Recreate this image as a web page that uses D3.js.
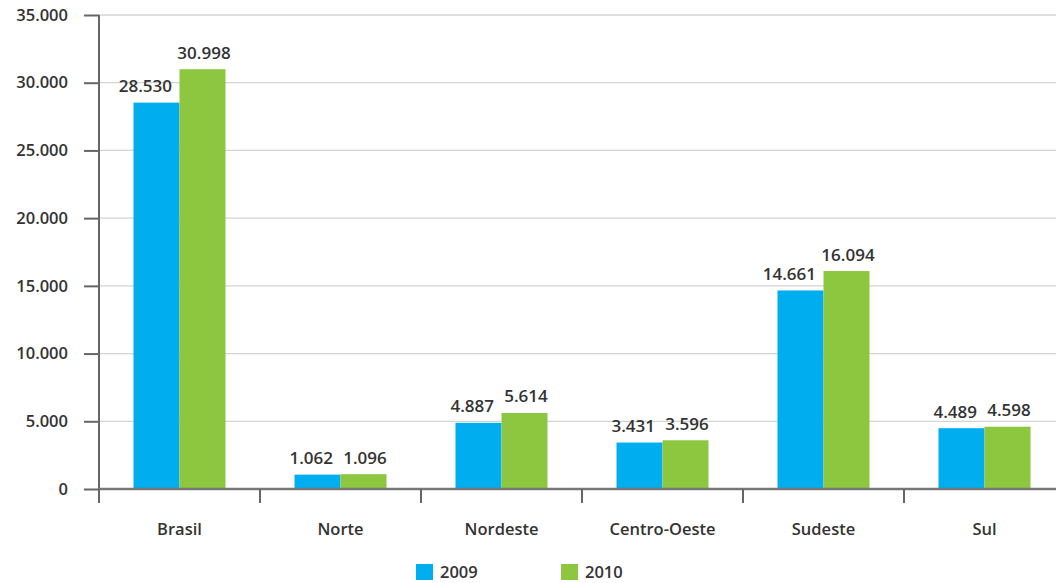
<!DOCTYPE html>
<html><head><meta charset="utf-8">
<script src="https://cdn.jsdelivr.net/npm/d3@7"></script>
<style>
html,body{margin:0;padding:0;background:#fff;}
text{font-family:"Open Sans",sans-serif;font-weight:600;fill:#333;}
</style></head>
<body><svg id="c" width="1056" height="583"></svg>
<script>
const categories = ["Brasil","Norte","Nordeste","Centro-Oeste","Sudeste","Sul"];
const seriesNames = ["2009","2010"];
const values2009 = [28530,1062,4887,3431,14661,4489];
const values2010 = [30998,1096,5614,3596,16094,4598];
const yTicks = [0,5000,10000,15000,20000,25000,30000,35000];
const colors = ["#00adef","#8dc63f"];

const svg = d3.select("#c");
const x0 = 99, x1 = 1065, yTop = 15, yBot = 489;
const fmt = v => d3.format(",")(v).replace(/,/g,".");

const x = d3.scaleBand().domain(categories).range([x0,x1]).paddingInner(0).paddingOuter(0);
const y = d3.scaleLinear().domain([0,35000]).range([yBot,yTop]);
const inner = d3.scaleBand().domain(seriesNames).range([34.5, x.bandwidth()-34.5]);

// gridlines
svg.append("g").selectAll("line").data(yTicks.slice(1)).join("line")
  .attr("x1",x0).attr("x2",1056).attr("y1",d=>y(d)).attr("y2",d=>y(d))
  .attr("stroke","#d4d4d4").attr("stroke-width",1.3);

// bars
const data = categories.map((c,i)=>({c, vals:[values2009[i],values2010[i]]}));
const g = svg.append("g");
data.forEach(d=>{
  d.vals.forEach((v,j)=>{
    const bx = x(d.c)+inner(seriesNames[j]);
    const bw = inner.bandwidth();
    g.append("rect").attr("x",bx).attr("y",y(v)).attr("width",bw).attr("height",yBot-y(v)).attr("fill",colors[j]);
    const t = g.append("text").attr("y",y(v)-10.5).attr("font-size",17).text(fmt(v));
    if (j===0) t.attr("x",bx+bw-7.5).attr("text-anchor","end");
    else t.attr("x",bx+bw/2+1.5).attr("text-anchor","middle");
  });
});

// y axis
const ya = svg.append("g").attr("transform",`translate(${x0},0)`)
  .call(d3.axisLeft(y).tickValues(yTicks).tickSize(15).tickPadding(16).tickFormat(fmt));
ya.select(".domain").attr("stroke","#666").attr("stroke-width",2).attr("d",`M0,${yTop}V${yBot}`);
ya.selectAll(".tick line").attr("stroke","#666").attr("stroke-width",2);
ya.selectAll(".tick text").attr("font-size",16.5).attr("fill","#333").style("font-family","'Open Sans',sans-serif").style("font-weight",600);

// x axis
svg.append("line").attr("x1",x0).attr("x2",1056).attr("y1",yBot).attr("y2",yBot).attr("stroke","#777").attr("stroke-width",2.5);
const xt = categories.map(c=>x(c));
svg.append("g").selectAll("line").data(xt).join("line")
  .attr("x1",d=>d).attr("x2",d=>d).attr("y1",yBot).attr("y2",yBot+14).attr("stroke","#666").attr("stroke-width",2);
svg.append("g").selectAll("text").data(categories).join("text")
  .attr("x",d=>x(d)+x.bandwidth()/2).attr("y",535).attr("text-anchor","middle").attr("font-size",16.5).text(d=>d);

// legend
const legX = [416,561];
seriesNames.forEach((s,i)=>{
  svg.append("rect").attr("x",legX[i]).attr("y",564).attr("width",17).attr("height",16).attr("fill",colors[i]);
  svg.append("text").attr("x",legX[i]+24).attr("y",578).attr("font-size",16.5).text(s);
});
</script></body></html>
